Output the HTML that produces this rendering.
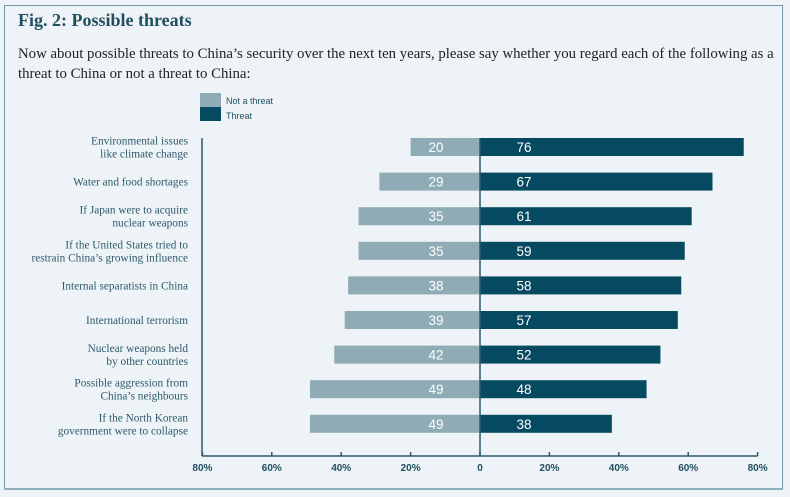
<!DOCTYPE html>
<html><head><meta charset="utf-8"><style>
html,body{margin:0;padding:0;background:#eef3f7;}
body{width:790px;height:497px;position:relative;overflow:hidden;font-family:"Liberation Serif",serif;}
#frame{position:absolute;left:4px;top:5px;width:779px;height:485px;border:1px solid #6f97a5;border-bottom:2px solid #8fb0bb;box-sizing:border-box;}
#title{position:absolute;left:18px;top:10px;font-size:18px;font-weight:bold;color:#1f4f60;}
#sub{position:absolute;left:18px;top:44px;font-size:14.8px;line-height:20px;color:#222;width:760px;}
</style></head><body>
<div id="frame"></div>
<div id="title">Fig. 2: Possible threats</div>
<div id="sub">Now about possible threats to China’s security over the next ten years, please say whether you regard each of the following as a threat to China or not a threat to China:</div>
<svg id="chart" width="790" height="497" style="position:absolute;left:0;top:0"></svg>
<script>
const categories=[["Environmental issues","like climate change"],["Water and food shortages"],["If Japan were to acquire","nuclear weapons"],["If the United States tried to","restrain China’s growing influence"],["Internal separatists in China"],["International terrorism"],["Nuclear weapons held","by other countries"],["Possible aggression from","China’s neighbours"],["If the North Korean","government were to collapse"]];
const notThreat=[20,29,35,35,38,39,42,49,49];
const threat=[76,67,61,59,58,57,52,48,38];
const ticks=[-80,-60,-40,-20,0,20,40,60,80];
const tickLabels=["80%","60%","40%","20%","0","20%","40%","60%","80%"];

const NS="http://www.w3.org/2000/svg";
const svg=document.getElementById('chart');
const x0=480,scale=3.47,rowTop=147,rowStep=34.6,barH=18,axisY=456,axisLeft=202;
const x=v=>x0+v*scale;
const y=i=>rowTop+i*rowStep;
function mk(t,a,txt){const e=document.createElementNS(NS,t);for(const k in a)e.setAttribute(k,a[k]);if(txt!=null)e.textContent=txt;svg.appendChild(e);return e;}
let e;
e=mk('rect',{x:200,y:93,width:21,height:14,fill:'#8fabb5'});


e=mk('rect',{x:200,y:107,width:21,height:14,fill:'#064a62'});


e=mk('text',{x:226,y:104,'font-family':'Liberation Sans, sans-serif','font-size':9,fill:'#1f4f60'},'Not a threat');


e=mk('text',{x:226,y:119,'font-family':'Liberation Sans, sans-serif','font-size':9,fill:'#1f4f60'},'Threat');


categories.forEach((c,i)=>{
  const cy=y(i);
  e=mk('rect',{x:x(-notThreat[i]),y:cy-barH/2,width:notThreat[i]*scale,height:barH,fill:'#8fabb5'});
  
  
  e=mk('rect',{x:x0,y:cy-barH/2,width:threat[i]*scale,height:barH,fill:'#064a62'});
  
  
  e=mk('text',{x:x0-44,y:cy+5,'text-anchor':'middle','font-family':'Liberation Sans, sans-serif','font-size':13.5,fill:'#fff'},notThreat[i]);
  
  
  e=mk('text',{x:x0+44,y:cy+5,'text-anchor':'middle','font-family':'Liberation Sans, sans-serif','font-size':13.5,fill:'#fff'},threat[i]);
  
  
  const n=c.length;
  c.forEach((ln,j)=>{
    e=mk('text',{x:188,y:cy+4-(n-1)*6.5+j*13,'text-anchor':'end','font-size':11.3,fill:'#2d5a6b'},ln);
    
    
  });
});
e=mk('line',{x1:axisLeft,y1:138,x2:axisLeft,y2:axisY,stroke:'#2d5a6b','stroke-width':1.5});


e=mk('line',{x1:x0,y1:138,x2:x0,y2:axisY,stroke:'#2d5a6b','stroke-width':1.5});


e=mk('line',{x1:axisLeft,y1:axisY,x2:x(80),y2:axisY,stroke:'#2d5a6b','stroke-width':1.5});


ticks.forEach((t,i)=>{
  e=mk('line',{x1:x(t),y1:axisY-4,x2:x(t),y2:axisY,stroke:'#2d5a6b','stroke-width':1.5});
  
  
  e=mk('text',{x:x(t),y:471,'text-anchor':'middle','font-family':'Liberation Sans, sans-serif','font-size':10,'font-weight':'bold',fill:'#1f4f60'},tickLabels[i]);
  
  
});
</script>
</body></html>
